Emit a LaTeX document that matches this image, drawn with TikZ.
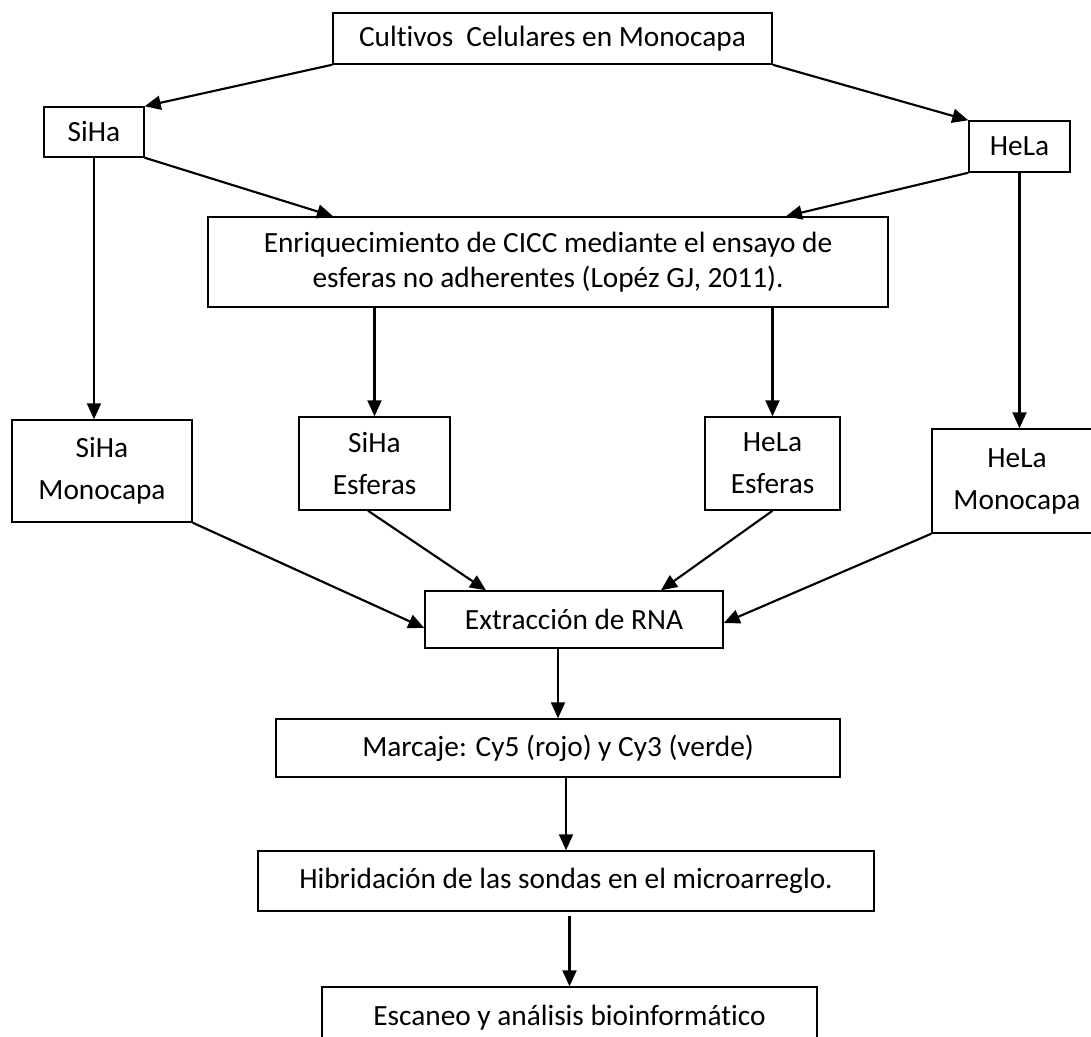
\documentclass[tikz,border=0pt]{standalone}
\usepackage{fontspec}
\setmainfont{Carlito}[Ligatures = NoCommon]
\usetikzlibrary{arrows.meta, calc}

\tikzset{
	box/.style = {draw, line width = 1.1pt, inner sep = 0pt, align = center, font = \fontsize{22}{31.5}\selectfont},
	flow/.style = {->, line width = 1.6pt}
}

\begin{document}
\begin{tikzpicture}[x = 0.75pt, y = -0.75pt, > = {Triangle[length = 12pt, width = 10.5pt]}]

	% Definitions

	\def\px{0.75pt}		% One pixel of the sketch

	% Page

	\useasboundingbox (0, 0) rectangle (1091, 1036);
	\clip (0, 0) rectangle (1091, 1036);

	% Cell lines

	\node [box, minimum width = 439*\px, minimum height = 51*\px] (cult) at (552.5, 38.5) {Cultivos~ Celulares en Monocapa};
	\node [box, minimum width = 100*\px, minimum height = 50*\px] (siha) at (94, 132) {SiHa};
	\node [box, minimum width = 101*\px, minimum height = 51*\px] (hela) at (1019.5, 146.5) {HeLa};

	% Sphere enrichment

	\node [box, minimum width = 680*\px, minimum height = 90*\px, font = \fontsize{22}{26}\selectfont] (enriq) at (548, 262) {Enriquecimiento de CICC mediante el ensayo de\\esferas no adherentes (Lopéz GJ, 2011).};

	% Samples

	\node [box, minimum width = 180*\px, minimum height = 102*\px] (sihamono) at (102, 471) {SiHa\\Monocapa};
	\node [box, minimum width = 151*\px, minimum height = 93*\px] (sihaesf) at (374.5, 463.5) {SiHa\\Esferas};
	\node [box, minimum width = 135*\px, minimum height = 93*\px] (helaesf) at (772.5, 463.5) {HeLa\\Esferas};
	\node [box, minimum width = 170*\px, minimum height = 104*\px] (helamono) at (1017, 481) {HeLa\\Monocapa};

	% Processing steps

	\node [box, minimum width = 298*\px, minimum height = 57*\px] (extr) at (574, 619.5) {Extracción de RNA};
	\node [box, minimum width = 564*\px, minimum height = 58*\px] (marc) at (558, 748) {Marcaje: Cy5 (rojo) y Cy3 (verde)};
	\node [box, minimum width = 616*\px, minimum height = 60*\px] (hibr) at (566, 881) {Hibridación de las sondas en el microarreglo.};
	\node [box, minimum width = 495*\px, minimum height = 62*\px] (esc) at (569.5, 1018) {Escaneo y análisis bioinformático};

	% Arrows, top half

	\draw [flow] (cult.south west) -- (siha.north east);
	\draw [flow] (cult.south east) -- (hela.north west);
	\draw [flow] (siha.south east) -- ($(enriq.north) + (-215, 0)$);
	\draw [flow] (hela.south west) -- ($(enriq.north) + (238, 0)$);
	\draw [flow] (siha.south) -- (siha.south |- sihamono.north);
	\draw [flow] (hela.south) -- (hela.south |- helamono.north);
	\draw [flow] (sihaesf.north |- enriq.south) -- (sihaesf.north);
	\draw [flow] (helaesf.north |- enriq.south) -- (helaesf.north);

	% Arrows, bottom half

	\draw [flow] (sihamono.south east) -- ($(extr.west) + (0, 8.5)$);
	\draw [flow] ($(sihaesf.south) + (-6.5, 0)$) -- ($(extr.north) + (-88, 0)$);
	\draw [flow] (helaesf.south) -- ($(extr.north) + (87, 0)$);
	\draw [flow] (helamono.south west) -- ($(extr.east) + (0, 3.5)$);
	\draw [flow] (marc.north |- extr.south) -- (marc.north);
	\draw [flow] (hibr.north |- marc.south) -- (hibr.north);
	\draw [flow, shorten < = 3pt] (esc.north |- hibr.south) -- (esc.north);

\end{tikzpicture}
\end{document}
